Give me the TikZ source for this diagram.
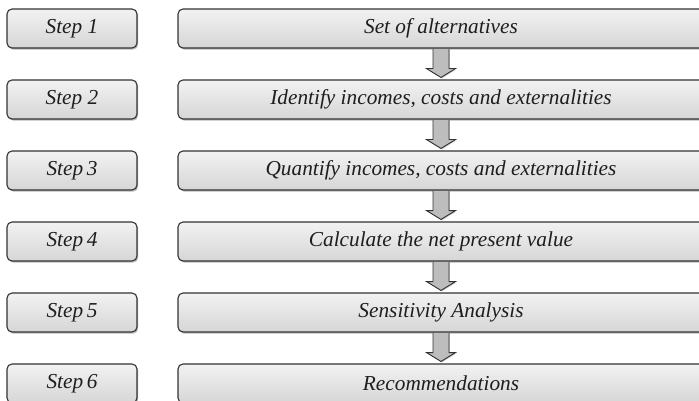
\documentclass[tikz,border=0pt]{standalone}
\usepackage{fontspec}
\setmainfont{Liberation Serif}
\usetikzlibrary{calc,shadows}
\definecolor{edge}{HTML}{333333}
\definecolor{txt}{HTML}{1E1E1E}
\definecolor{topc}{HTML}{F2F2F2}
\definecolor{botc}{HTML}{D6D6D6}
\definecolor{arrowc}{HTML}{BDBDBD}
\tikzset{
  stepbox/.style={draw=edge, line width=1.1pt, rounded corners=5pt,
    top color=topc, bottom color=botc, minimum height=39pt,
    drop shadow={shadow xshift=1.2pt, shadow yshift=-1.6pt, fill=black!45, opacity=0.6},
    font=\fontsize{21.3}{24}\selectfont\itshape, text=txt, inner sep=0pt},
  leftbox/.style={stepbox, minimum width=130pt},
  rightbox/.style={stepbox, minimum width=526pt},
  blockarrow/.style={draw=edge, line width=0.9pt, fill=arrowc, line join=miter,
    drop shadow={shadow xshift=0.8pt, shadow yshift=-1pt, fill=black!40, opacity=0.5}}
}
\begin{document}
\begin{tikzpicture}[x=1pt,y=-1pt]
\useasboundingbox (0,0) rectangle (699,401);
\clip (0,0) rectangle (699,401);
\foreach \i/\lab/\txt in {1/Step 1/Set of alternatives,
  2/Step 2/Identify incomes{,} costs and externalities,
  3/Step\,3/Quantify incomes{,} costs and externalities,
  4/Step\,4/Calculate the net present value,
  5/Step\,5/Sensitivity Analysis,
  6/Step\,6/Recommendations}{
  \node[leftbox] (l\i) at (72, {28.5+71*(\i-1)}) {\lab};
  \node[rightbox] (r\i) at (441, {28.5+71*(\i-1)}) {\txt};
}
\foreach \a/\b in {1/2,2/3,3/4,4/5,5/6}{
  \draw[blockarrow] ($(r\a.south)+(-8,0.6)$) -- ($(r\a.south)+(-8,20)$)
    -- ($(r\a.south)+(-14.5,20)$) -- ($(r\b.north)+(0,-2)$)
    -- ($(r\a.south)+(14.5,20)$) -- ($(r\a.south)+(8,20)$)
    -- ($(r\a.south)+(8,0.6)$);
}
\end{tikzpicture}
\end{document}
